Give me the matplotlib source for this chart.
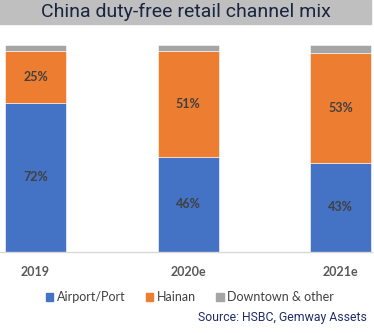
import matplotlib
matplotlib.use('Agg')
import matplotlib.pyplot as plt
import numpy as np
from matplotlib.patches import Patch

years = ['2019', '2020e', '2021e']
airport = [72, 46, 43]
hainan = [25, 51, 53]
downtown = [3, 3, 4]
series_names = ['Airport/Port', 'Hainan', 'Downtown & other']
colors = ['#4472C4', '#ED7D31', '#A5A5A5']

narrow = ['Roboto', 'DejaVu Sans']
body = ['Lato', 'DejaVu Sans']

fig = plt.figure(figsize=(3.74, 3.33), dpi=100)
ax = fig.add_axes([0, (333 - 252) / 333, 372 / 374, (252 - 45) / 333])

x = np.arange(len(years))
w = 0.4
bottom = np.zeros(len(years))
for vals, c in zip([airport, hainan, downtown], colors):
    ax.bar(x, vals, w, bottom=bottom, color=c, edgecolor='white', linewidth=0.4)
    for xi, b, v in zip(x, bottom, vals):
        if v >= 10:
            ax.text(xi, b + v / 2, f'{v}%', ha='center', va='center',
                    fontsize=9, fontweight='bold', color='#404040', family=body)
    bottom += np.array(vals)

ax.set_xlim(-35.5 / 152.5, (372 - 35.5) / 152.5)
ax.set_ylim(0, 100)
for s in ['top', 'right', 'left']:
    ax.spines[s].set_visible(False)
ax.spines['bottom'].set_color('#D9D9D9')
ax.spines['bottom'].set_linewidth(1)
ax.set_yticks([])
ax.set_xticks(x)
ax.set_xticklabels(years, fontsize=9, fontweight='bold', color='#595959', family=body)
ax.tick_params(axis='x', length=0, pad=10)

# title band
fig.patches.append(plt.Rectangle((0, 1 - 24 / 333), 371 / 374, 24 / 333,
                                 transform=fig.transFigure, color='#BFBFBF', zorder=0))
fig.text(186 / 374, 1 - 12 / 333, 'China duty-free retail channel mix', ha='center', va='center',
         fontsize=14, color='#1A2540', family=narrow)

handles = [Patch(color=c) for c in colors]
fig.legend(handles, series_names, loc='center', bbox_to_anchor=(190 / 374, 1 - 297 / 333),
           ncol=3, frameon=False, handlelength=0.6, handleheight=0.6, handletextpad=0.3,
           columnspacing=1.6, prop={'family': body, 'size': 9}, labelcolor='#404040')

fig.text(367 / 374, 1 - 318 / 333, 'Source: HSBC, Gemway Assets', ha='right', va='center',
         fontsize=8.8, color='#1F2D6A', family=narrow)

fig.savefig('out.png', dpi=100)
